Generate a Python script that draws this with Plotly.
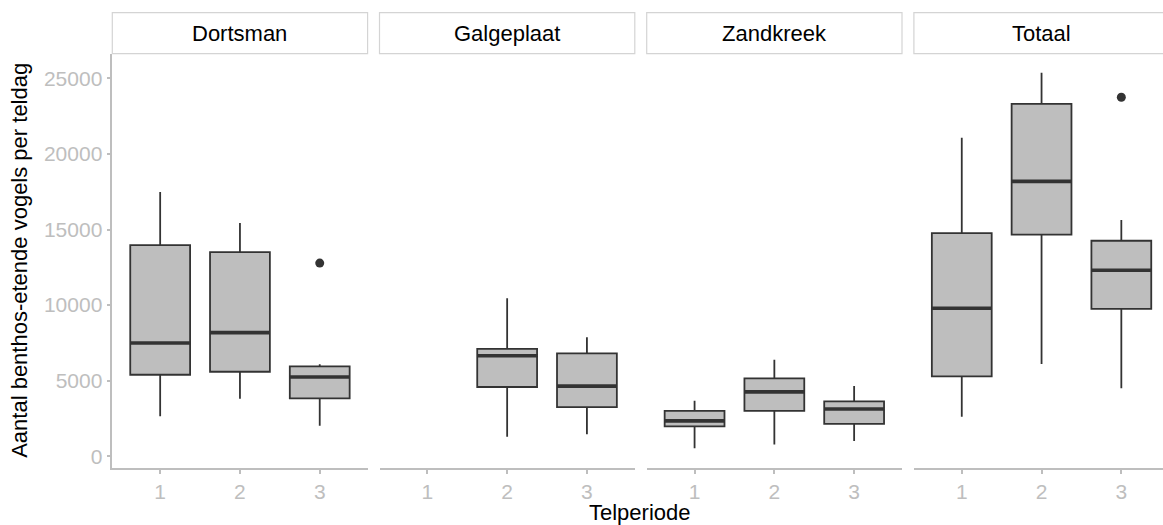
import plotly.graph_objects as go

# ---------------- data ----------------
panels = ["Dortsman", "Galgeplaat", "Zandkreek", "Totaal"]
tick_labels = ["1", "2", "3"]
y_ticks = [0, 5000, 10000, 15000, 20000, 25000]
y_tick_labels = ["0", "5000", "10000", "15000", "20000", "25000"]

dortsman_period = [1, 2, 3]
dortsman_low = [2650, 3800, 2010]
dortsman_q1 = [5390, 5590, 3830]
dortsman_med = [7490, 8180, 5240]
dortsman_q3 = [13970, 13510, 5950]
dortsman_high = [17490, 15430, 6080]
dortsman_outliers = [[], [], [12780]]

galgeplaat_period = [2, 3]
galgeplaat_low = [1280, 1460]
galgeplaat_q1 = [4580, 3250]
galgeplaat_med = [6650, 4640]
galgeplaat_q3 = [7100, 6810]
galgeplaat_high = [10460, 7870]
galgeplaat_outliers = [[], []]

zandkreek_period = [1, 2, 3]
zandkreek_low = [530, 780, 1015]
zandkreek_q1 = [1970, 3000, 2140]
zandkreek_med = [2340, 4260, 3120]
zandkreek_q3 = [3000, 5150, 3630]
zandkreek_high = [3670, 6390, 4640]
zandkreek_outliers = [[], [], []]

totaal_period = [1, 2, 3]
totaal_low = [2610, 6100, 4490]
totaal_q1 = [5290, 14660, 9750]
totaal_med = [9790, 18190, 12310]
totaal_q3 = [14770, 23320, 14260]
totaal_high = [21070, 25380, 15630]
totaal_outliers = [[], [], [23760]]

series = [
    (dortsman_period, dortsman_low, dortsman_q1, dortsman_med, dortsman_q3, dortsman_high, dortsman_outliers),
    (galgeplaat_period, galgeplaat_low, galgeplaat_q1, galgeplaat_med, galgeplaat_q3, galgeplaat_high, galgeplaat_outliers),
    (zandkreek_period, zandkreek_low, zandkreek_q1, zandkreek_med, zandkreek_q3, zandkreek_high, zandkreek_outliers),
    (totaal_period, totaal_low, totaal_q1, totaal_med, totaal_q3, totaal_high, totaal_outliers),
]

# ---------------- layout geometry ----------------
W, H = 1163, 525
panel_left = [112.3, 379.5, 646.7, 913.9]
panel_w = 255.3
unit = panel_w / 3.2
plot_top, plot_bot = 53.7, 468.0
strip_top = 12.7
BOX_W = 0.75

DARK = "#333333"
FILL = "#BEBEBE"
AXC = "#BEBEBE"
FONT = "Liberation Sans, Arial, sans-serif"
FS_TICK = 21
FS_TEXT = 22

fig = go.Figure()
layout = dict(
    width=W, height=H, margin=dict(l=0, r=0, t=0, b=0),
    paper_bgcolor="white", plot_bgcolor="white", showlegend=False,
    font=dict(family=FONT, size=FS_TEXT, color="black"),
)
shapes, annotations = [], []

for i, (name, s) in enumerate(zip(panels, series)):
    per, lo, q1, med, q3, hi, outs = s
    ax = "" if i == 0 else str(i + 1)
    xa, ya = "x" + ax, "y" + ax
    x0 = panel_left[i]
    x1 = min(x0 + panel_w, W)
    rng_end = 0.4 + (x1 - x0) / unit
    layout["xaxis" + ax] = dict(
        domain=[x0 / W, x1 / W], range=[0.4, rng_end], anchor=ya,
        tickmode="array", tickvals=[1, 2, 3], ticktext=tick_labels,
        showgrid=False, zeroline=False, showline=True, linecolor=AXC, linewidth=1.5,
        ticks="outside", ticklen=4, tickwidth=1.5, tickcolor=AXC,
        tickfont=dict(size=FS_TICK, color=AXC, family=FONT), fixedrange=True,
    )
    layout["yaxis" + ax] = dict(
        domain=[1 - plot_bot / H, 1 - plot_top / H], range=[-780, 26640], anchor=xa,
        tickmode="array", tickvals=y_ticks, ticktext=y_tick_labels,
        showgrid=False, zeroline=False, showline=(i == 0), linecolor=AXC, linewidth=1.5,
        ticks="outside" if i == 0 else "", ticklen=4, tickwidth=1.5, tickcolor=AXC,
        showticklabels=(i == 0),
        tickfont=dict(size=FS_TICK, color=AXC, family=FONT), fixedrange=True,
    )
    fig.add_trace(go.Box(
        x=per, q1=q1, median=med, q3=q3, lowerfence=lo, upperfence=hi,
        width=BOX_W, whiskerwidth=0, boxpoints=False,
        fillcolor=FILL, line=dict(color=DARK, width=1.8),
        xaxis=xa, yaxis=ya, hoverinfo="skip",
    ))
    # thick median lines
    for p, m in zip(per, med):
        fig.add_trace(go.Scatter(
            x=[p - BOX_W / 2, p + BOX_W / 2], y=[m, m], mode="lines",
            line=dict(color=DARK, width=3.6), xaxis=xa, yaxis=ya, hoverinfo="skip",
        ))
    # outliers
    ox, oy = [], []
    for p, o in zip(per, outs):
        for v in o:
            ox.append(p)
            oy.append(v)
    if ox:
        fig.add_trace(go.Scatter(
            x=ox, y=oy, mode="markers", marker=dict(color=DARK, size=9),
            xaxis=xa, yaxis=ya, hoverinfo="skip",
        ))
    # strip
    shapes.append(dict(
        type="rect", xref="paper", yref="paper",
        x0=x0 / W, x1=(x0 + panel_w) / W,
        y0=1 - plot_top / H, y1=1 - strip_top / H,
        line=dict(color="#D4D4D4", width=1.2), fillcolor="white", layer="below",
    ))
    annotations.append(dict(
        text=name, xref="paper", yref="paper",
        x=(x0 + panel_w / 2) / W, y=1 - (plot_top + strip_top) / 2 / H,
        showarrow=False, xanchor="center", yanchor="middle",
        font=dict(size=FS_TEXT, color="black", family=FONT),
    ))

annotations.append(dict(
    text="Aantal benthos-etende vogels per teldag", xref="paper", yref="paper",
    x=20 / W, y=1 - (plot_top + plot_bot) / 2 / H, textangle=-90,
    showarrow=False, xanchor="center", yanchor="middle",
    font=dict(size=FS_TEXT, color="black", family=FONT),
))
annotations.append(dict(
    text="Telperiode", xref="paper", yref="paper",
    x=640 / W, y=1 - 512 / H,
    showarrow=False, xanchor="center", yanchor="middle",
    font=dict(size=FS_TEXT, color="black", family=FONT),
))

layout["shapes"] = shapes
layout["annotations"] = annotations
fig.update_layout(**layout)
fig.write_html("out.html")
